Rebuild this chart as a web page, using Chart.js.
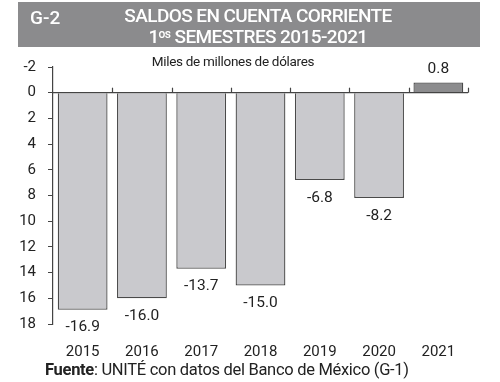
<!DOCTYPE html>
<html><head><meta charset="utf-8">
<script src="https://cdn.jsdelivr.net/npm/chart.js@4"></script>
<style>
html,body{margin:0;padding:0;background:#fff;}
#wrap{position:relative;width:500px;height:382px;overflow:hidden;font-family:Roboto,"Liberation Sans",sans-serif;}
canvas{position:absolute;left:0;top:0;}
#hdr{position:absolute;left:18px;top:2px;width:462px;height:45px;background:#8b8b8d;color:#fff;}
#g2{position:absolute;left:12px;top:4px;font-size:19px;font-weight:500;}
#t1{position:absolute;left:0;width:480px;text-align:center;top:3px;font-size:19px;font-weight:500;letter-spacing:-0.6px;line-height:21px;}
#t2{position:absolute;left:0;width:480px;text-align:center;top:24px;font-size:19px;font-weight:500;letter-spacing:-0.6px;line-height:21px;}
#t2 sup{font-size:12px;vertical-align:5px;line-height:0;}
#sub{position:absolute;left:0;width:466px;text-align:center;top:53px;font-size:13.5px;color:#222;letter-spacing:-0.3px;}
#src{position:absolute;left:45px;top:360px;font-size:16.5px;color:#222;letter-spacing:-0.3px;}
</style></head>
<body>
<div id="wrap">
<canvas id="c" width="500" height="382"></canvas>
<div id="hdr"><span id="g2">G-2</span>
<div id="t1">SALDOS EN CUENTA CORRIENTE</div>
<div id="t2">1<sup>os</sup> SEMESTRES 2015-2021</div></div>
<div id="sub">Miles de millones de dólares</div>
<div id="src"><b>Fuente</b>: UNITÉ con datos del Banco de México (G-1)</div>
</div>
<script>
const years = ["2015","2016","2017","2018","2019","2020","2021"];
const saldos = [-16.9, -16.0, -13.7, -15.0, -6.8, -8.2, 0.8];
const yTicks = [-2,0,2,4,6,8,10,12,14,16,18];

const plotted = saldos.map(v => -v); // reversed axis: deficits drawn downward
const fills = saldos.map(v => v >= 0 ? '#8c8c8e' : '#c9c9cd');

const overlay = {
  id:'overlay',
  afterDatasetsDraw(chart){
    const ctx = chart.ctx, xs = chart.scales.x, ys = chart.scales.y, ca = chart.chartArea;
    const y0 = ys.getPixelForValue(0);
    ctx.save();
    ctx.strokeStyle = '#444'; ctx.lineWidth = 1.2;
    ctx.beginPath(); ctx.moveTo(ca.left, y0); ctx.lineTo(ca.right, y0); ctx.stroke();
    const n = years.length, w = (ca.right - ca.left)/n;
    for(let i=1;i<=n;i++){
      const x = Math.round(ca.left + i*w)+0.5;
      ctx.beginPath(); ctx.moveTo(x, y0); ctx.lineTo(x, y0-5); ctx.stroke();
    }
    ctx.fillStyle = '#222';
    ctx.font = '15.5px Roboto, "Liberation Sans", sans-serif';
    ctx.textAlign = 'center';
    const meta = chart.getDatasetMeta(0);
    meta.data.forEach((bar,i)=>{
      const v = saldos[i];
      const yEnd = ys.getPixelForValue(plotted[i]);
      const txt = v.toFixed(1);
      if (v < 0){ ctx.textBaseline='top'; ctx.fillText(txt, bar.x, yEnd+10); }
      else { ctx.textBaseline='bottom'; ctx.fillText(txt, bar.x, yEnd-6); }
    });
    ctx.restore();
  }
};

new Chart(document.getElementById('c'), {
  type:'bar',
  data:{labels:years, datasets:[{data:plotted, backgroundColor:fills, borderColor:'#4a4a4a', borderWidth:1.3, categoryPercentage:0.84, barPercentage:1.0}]},
  options:{
    responsive:false, animation:false, devicePixelRatio:1,
    layout:{padding:{top:67, right:32, left:0, bottom:0}},
    plugins:{legend:{display:false}, tooltip:{enabled:false}},
    scales:{
      y:{reverse:true, min:-2, max:18,
        afterBuildTicks(s){ s.ticks = yTicks.map(v=>({value:v})); },
        afterFit(s){ s.width = 53; },
        grid:{display:true, drawOnChartArea:false, tickLength:5, color:'#444'},
        border:{display:true, color:'#444', width:1.2},
        ticks:{color:'#222', padding:12, font:{size:15, family:'Roboto, "Liberation Sans", sans-serif'}}
      },
      x:{
        afterFit(s){ s.height = 58; },
        grid:{display:false}, border:{display:false},
        ticks:{color:'#222', padding:11, font:{size:15, family:'Roboto, "Liberation Sans", sans-serif'}}
      }
    }
  },
  plugins:[overlay]
});
</script>
</body></html>
